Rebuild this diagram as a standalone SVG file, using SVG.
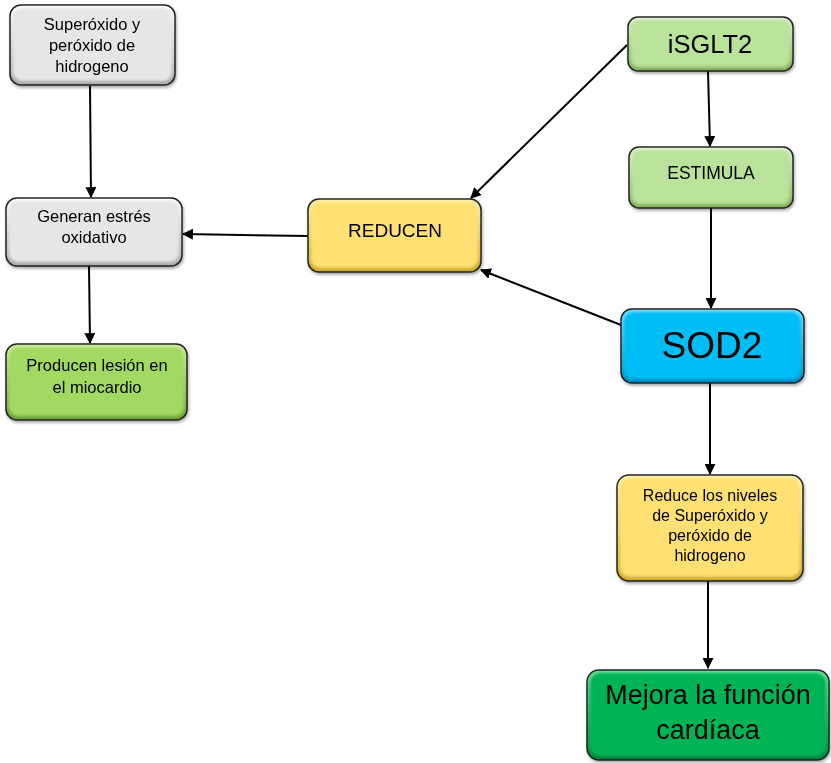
<svg xmlns="http://www.w3.org/2000/svg" width="831" height="763" viewBox="0 0 831 763">
  <style>
    .edge { stroke: #222; stroke-width: 1.5; }
    .txt { font-family: "Liberation Sans", Arial, sans-serif; fill: #000; text-anchor: middle; }
    .link { stroke: #000; stroke-width: 2; fill: none; marker-end: url(#arrow); }
  </style>
  <defs>
    <marker id="arrow" viewBox="0 0 10 10" refX="9" refY="5" markerWidth="5.5" markerHeight="5.5" orient="auto" markerUnits="strokeWidth">
      <path d="M0,0 L10,5 L0,10 z" fill="#000"/>
    </marker>
    <filter id="soft" x="-5%" y="-5%" width="110%" height="110%">
      <feGaussianBlur stdDeviation="1.6"/>
    </filter>
    <filter id="shadow" x="-10%" y="-10%" width="120%" height="130%">
      <feGaussianBlur in="SourceAlpha" stdDeviation="1.5"/>
      <feOffset dx="1" dy="2" result="b"/>
      <feComponentTransfer><feFuncA type="linear" slope="0.35"/></feComponentTransfer>
      <feMerge><feMergeNode/><feMergeNode in="SourceGraphic"/></feMerge>
    </filter>
    <linearGradient id="gGray" x1="0" y1="0" x2="0" y2="1"><stop offset="0" stop-color="#ffffff"/><stop offset="1" stop-color="#a8a8a8"/></linearGradient>
    <linearGradient id="gLight" x1="0" y1="0" x2="0" y2="1"><stop offset="0" stop-color="#e6f5d6"/><stop offset="1" stop-color="#7fae58"/></linearGradient>
    <linearGradient id="gYellow" x1="0" y1="0" x2="0" y2="1"><stop offset="0" stop-color="#fff3b0"/><stop offset="1" stop-color="#c9a92a"/></linearGradient>
    <linearGradient id="gBlue" x1="0" y1="0" x2="0" y2="1"><stop offset="0" stop-color="#7fe0ff"/><stop offset="1" stop-color="#0088c0"/></linearGradient>
    <linearGradient id="gLime" x1="0" y1="0" x2="0" y2="1"><stop offset="0" stop-color="#d2f0a8"/><stop offset="1" stop-color="#6a9f30"/></linearGradient>
    <linearGradient id="gGreen" x1="0" y1="0" x2="0" y2="1"><stop offset="0" stop-color="#6fe09c"/><stop offset="1" stop-color="#00803a"/></linearGradient>
  </defs>

  <!-- connectors -->
  <g id="connectors">
    <line class="link" x1="90" y1="86" x2="91" y2="197"/>
    <line class="link" x1="89" y1="266" x2="90" y2="343"/>
    <line class="link" x1="308" y1="236" x2="183" y2="234"/>
    <line class="link" x1="627" y1="45" x2="471" y2="198"/>
    <line class="link" x1="708" y1="71" x2="710" y2="146"/>
    <line class="link" x1="711" y1="208" x2="711" y2="308"/>
    <line class="link" x1="621" y1="325" x2="481" y2="270"/>
    <line class="link" x1="710" y1="383" x2="710" y2="474"/>
    <line class="link" x1="708" y1="581" x2="708" y2="668"/>
  </g>

  <!-- Superóxido y peróxido de hidrogeno -->
  <g id="n-superoxido" filter="url(#shadow)">
    <rect class="edge" x="10" y="5" width="165" height="80" rx="11" fill="url(#gGray)"/>
    <rect x="13" y="8" width="159" height="73" rx="9" fill="#e6e6e6" filter="url(#soft)"/>
    <text class="txt" font-size="16.5" x="92" y="30">Superóxido y</text>
    <text class="txt" font-size="16.5" x="92" y="51">peróxido de</text>
    <text class="txt" font-size="16.5" x="92" y="72">hidrogeno</text>
  </g>

  <!-- Generan estrés oxidativo -->
  <g id="n-generan" filter="url(#shadow)">
    <rect class="edge" x="6" y="198" width="176" height="68" rx="11" fill="url(#gGray)"/>
    <rect x="9" y="201" width="170" height="61" rx="9" fill="#e6e6e6" filter="url(#soft)"/>
    <text class="txt" font-size="16.5" x="94" y="222">Generan estrés</text>
    <text class="txt" font-size="16.5" x="94" y="243">oxidativo</text>
  </g>

  <!-- Producen lesión en el miocardio -->
  <g id="n-producen" filter="url(#shadow)">
    <rect class="edge" x="6" y="344" width="181" height="76" rx="11" fill="url(#gLime)"/>
    <rect x="9" y="347" width="175" height="69" rx="9" fill="#a2d962" filter="url(#soft)"/>
    <text class="txt" font-size="16.5" x="97" y="371">Producen lesión en</text>
    <text class="txt" font-size="16.5" x="97" y="393">el miocardio</text>
  </g>

  <!-- REDUCEN -->
  <g id="n-reducen" filter="url(#shadow)">
    <rect class="edge" x="308" y="199" width="173" height="73" rx="11" fill="url(#gYellow)"/>
    <rect x="311" y="202" width="167" height="66" rx="9" fill="#ffe173" filter="url(#soft)"/>
    <text class="txt" font-size="19" x="395" y="237">REDUCEN</text>
  </g>

  <!-- iSGLT2 -->
  <g id="n-isglt2" filter="url(#shadow)">
    <rect class="edge" x="628" y="17" width="165" height="54" rx="10" fill="url(#gLight)"/>
    <rect x="631" y="20" width="159" height="47" rx="8" fill="#b9e29a" filter="url(#soft)"/>
    <text class="txt" font-size="25.5" x="710" y="53">iSGLT2</text>
  </g>

  <!-- ESTIMULA -->
  <g id="n-estimula" filter="url(#shadow)">
    <rect class="edge" x="629" y="147" width="164" height="61" rx="10" fill="url(#gLight)"/>
    <rect x="632" y="150" width="158" height="54" rx="8" fill="#b9e29a" filter="url(#soft)"/>
    <text class="txt" font-size="17.5" x="711" y="179">ESTIMULA</text>
  </g>

  <!-- SOD2 -->
  <g id="n-sod2" filter="url(#shadow)">
    <rect class="edge" x="621" y="309" width="183" height="74" rx="11" fill="url(#gBlue)"/>
    <rect x="624" y="312" width="177" height="67" rx="9" fill="#00bdf5" filter="url(#soft)"/>
    <text class="txt" font-size="37" x="712" y="358">SOD2</text>
  </g>

  <!-- Reduce los niveles de Superóxido y peróxido de hidrogeno -->
  <g id="n-reduce-niveles" filter="url(#shadow)">
    <rect class="edge" x="617" y="475" width="186" height="106" rx="12" fill="url(#gYellow)"/>
    <rect x="620" y="478" width="180" height="99" rx="10" fill="#ffe173" filter="url(#soft)"/>
    <text class="txt" font-size="16" x="710" y="501">Reduce los niveles</text>
    <text class="txt" font-size="16" x="710" y="521">de Superóxido y</text>
    <text class="txt" font-size="16" x="710" y="541">peróxido de</text>
    <text class="txt" font-size="16" x="710" y="561">hidrogeno</text>
  </g>

  <!-- Mejora la función cardíaca -->
  <g id="n-mejora" filter="url(#shadow)">
    <rect class="edge" x="587" y="670" width="242" height="90" rx="12" fill="url(#gGreen)"/>
    <rect x="590" y="673" width="236" height="83" rx="10" fill="#00b455" filter="url(#soft)"/>
    <text class="txt" font-size="27" x="708" y="704">Mejora la función</text>
    <text class="txt" font-size="27" x="708" y="739">cardíaca</text>
  </g>
</svg>
